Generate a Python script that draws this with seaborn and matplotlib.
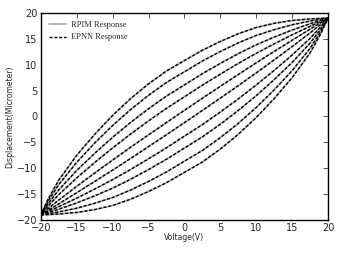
import matplotlib
matplotlib.use("Agg")
import matplotlib.pyplot as plt
import seaborn as sns
import pandas as pd

voltage = [-20, -19, -17.5, -15, -12.5, -10, -7.5, -5, -2.5, 0, 2.5, 5, 7.5, 10, 12.5, 15, 17.5, 19, 20]

# upper (descending) branches, widest loop first
upper_1 = [-19, -16.0, -12.3, -7.5, -3.45, 0.2, 3.45, 6.3, 8.8, 10.8, 12.8, 14.5, 16.0, 17.2, 18.0, 18.55, 18.85, 18.97, 19]
upper_2 = [-19, -16.41, -13.17, -8.85, -5.14, -1.74, 1.34, 4.09, 6.57, 8.64, 10.72, 12.55, 14.23, 15.66, 16.78, 17.73, 18.45, 18.81, 19]
upper_3 = [-19, -16.89, -14.18, -10.44, -7.12, -4.02, -1.16, 1.5, 3.94, 6.1, 8.27, 10.26, 12.14, 13.85, 15.34, 16.71, 17.92, 18.59, 19]
upper_4 = [-19, -17.33, -15.1, -11.87, -8.91, -6.09, -3.4, -0.86, 1.57, 3.8, 6.05, 8.18, 10.25, 12.21, 14.03, 15.78, 17.43, 18.38, 19]
upper_5 = [-19, -17.82, -16.15, -13.51, -10.93, -8.43, -5.95, -3.55, -1.17, 1.19, 3.53, 5.82, 8.12, 10.36, 12.57, 14.73, 16.88, 18.15, 19]

# lower (ascending) branches, same order
lower_1 = [-19, -18.97, -18.85, -18.55, -18.0, -17.2, -16.0, -14.5, -12.8, -10.8, -8.8, -6.3, -3.45, -0.2, 3.45, 7.5, 12.3, 16.0, 19]
lower_2 = [-19, -18.81, -18.45, -17.73, -16.78, -15.66, -14.23, -12.55, -10.72, -8.64, -6.57, -4.09, -1.34, 1.74, 5.14, 8.85, 13.17, 16.41, 19]
lower_3 = [-19, -18.59, -17.92, -16.71, -15.34, -13.85, -12.14, -10.26, -8.27, -6.1, -3.94, -1.5, 1.16, 4.02, 7.12, 10.44, 14.18, 16.89, 19]
lower_4 = [-19, -18.38, -17.43, -15.78, -14.03, -12.21, -10.25, -8.18, -6.05, -3.8, -1.57, 0.86, 3.4, 6.09, 8.91, 11.87, 15.1, 17.33, 19]
lower_5 = [-19, -18.15, -16.88, -14.73, -12.57, -10.36, -8.12, -5.82, -3.53, -1.19, 1.17, 3.55, 5.95, 8.43, 10.93, 13.51, 16.15, 17.82, 19]

uppers = [upper_1, upper_2, upper_3, upper_4, upper_5]
lowers = [lower_1, lower_2, lower_3, lower_4, lower_5]

rows = []
for k, (up, lo) in enumerate(zip(uppers, lowers)):
    step = 0
    for v, d in zip(voltage, lo):
        rows.append((k, step, v, d)); step += 1
    for v, d in zip(voltage[::-1], up[::-1]):
        rows.append((k, step, v, d)); step += 1
loops = pd.DataFrame(rows, columns=["loop", "step", "Voltage", "Displacement"])

sns.set_style("white")
plt.rcParams['font.family'] = ['DejaVu Sans']

fig = plt.figure(figsize=(3.46, 2.60), dpi=100)
ax = fig.add_axes([0.118, 0.154, 0.83, 0.796])

for k, g in loops.groupby("loop"):
    sns.lineplot(data=g, x="Voltage", y="Displacement", sort=False, estimator=None,
                 color="#a8a8a8", linewidth=1.2, ax=ax,
                 label="RPIM Response" if k == 0 else None)
for k, g in loops.groupby("loop"):
    sns.lineplot(data=g, x="Voltage", y="Displacement", sort=False, estimator=None,
                 color="black", linewidth=1.0, ax=ax,
                 label="EPNN Response" if k == 0 else None)
for ln in ax.lines[len(ax.lines) // 2:]:
    ln.set_dashes((2.2, 1.3))

ax.set_xlim(-20, 20)
ax.set_ylim(-20, 20)
ax.set_xticks(range(-20, 21, 5))
ax.set_yticks(range(-20, 21, 5))
ax.set_xlabel("Voltage(V)", fontsize=5.5, labelpad=0)
ax.set_ylabel("Displacement(Micrometer)", fontsize=5.5, labelpad=2)
ax.tick_params(direction="in", length=3.5, width=0.6, top=True, right=True,
               labelsize=7, pad=2.5, color="#333333")
for s in ax.spines.values():
    s.set_linewidth(1.0)
    s.set_color("black")

leg = ax.legend(loc="upper left", frameon=False, handlelength=2.0,
                prop={"family": "Liberation Serif", "size": 6},
                borderaxespad=0.6, labelspacing=0.5, handletextpad=0.6)
for h in leg.get_lines()[1:]:
    h.set_dashes((2.2, 1.3))

fig.savefig("out.png", dpi=100)
